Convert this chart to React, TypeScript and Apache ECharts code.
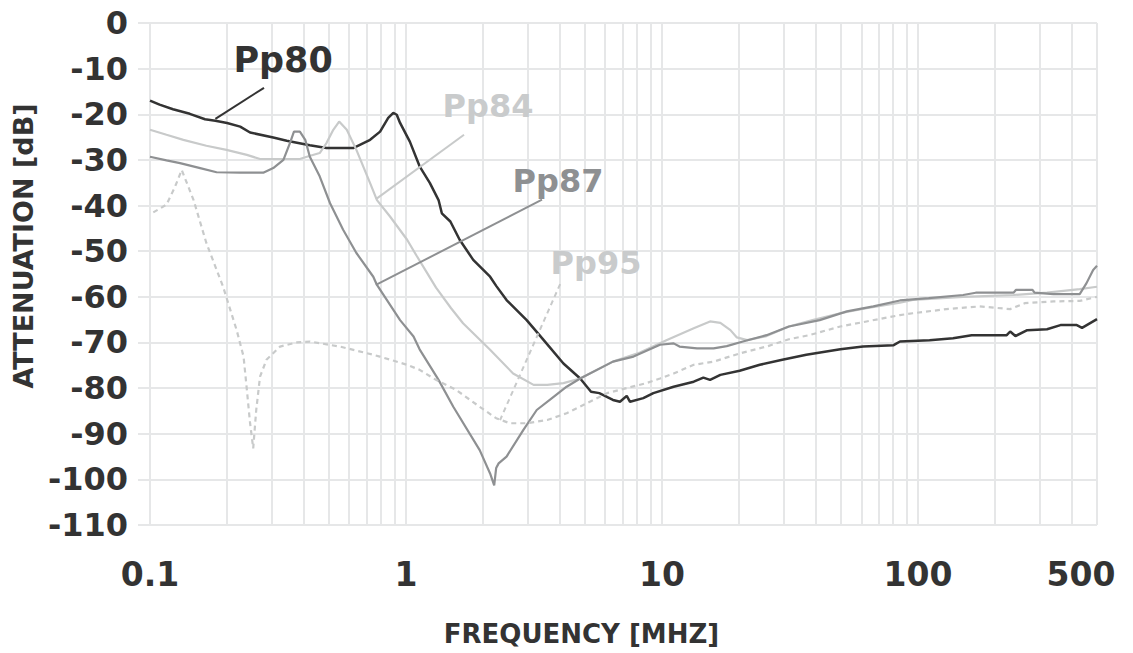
import React, { useEffect, useRef } from 'react';
import * as echarts from 'echarts';

// ---- axes ----
const X_MIN = 0.1;
const X_MAX = 500;
const Y_MIN = -110;
const Y_MAX = 0;
const Y_STEP = 10;
const MINOR_FREQS = [0.2, 0.3, 0.4, 0.5, 0.6, 0.7, 0.8, 0.9, 2, 3, 4, 5, 6, 7, 8, 9, 20, 30, 40, 50, 60, 70, 80, 90, 200, 300, 400];

// ---- series data: [frequency MHz, attenuation dB] ----
const PP80 = [
  [0.1, -17.0], [0.109, -17.9], [0.123, -18.9], [0.143, -19.9], [0.164, -21.1], [0.18, -21.4], [0.2, -21.9],
  [0.225, -22.7], [0.246, -24.0], [0.303, -25.1], [0.342, -25.8], [0.421, -26.8], [0.489, -27.4], [0.622, -27.4],
  [0.724, -25.6], [0.792, -23.8], [0.852, -20.8], [0.892, -19.7], [0.92, -20.1], [0.948, -21.9], [1.035, -26.0],
  [1.13, -31.4], [1.24, -35.1], [1.34, -38.8], [1.38, -41.7], [1.49, -43.5], [1.62, -47.5], [1.83, -51.9],
  [2.13, -55.6], [2.25, -57.6], [2.47, -60.7], [2.96, -65.1], [3.45, -69.5], [4.12, -74.6], [4.79, -77.9],
  [5.28, -80.8], [5.69, -81.1], [6.43, -82.6], [6.85, -83.0], [7.28, -81.7], [7.5, -83.0], [8.45, -82.2],
  [9.25, -81.1], [11.1, -79.7], [13.3, -78.6], [14.5, -77.7], [15.4, -78.2], [16.9, -77.1], [20.1, -76.2],
  [24.1, -74.9], [29.5, -73.8], [36.6, -72.7], [49.7, -71.5], [61, -70.9], [80.3, -70.6], [85, -69.8],
  [110.9, -69.5], [137, -69.1], [162, -68.4], [222, -68.4], [229, -67.6], [240, -68.6], [267, -67.3],
  [319, -67.1], [360, -66.2], [417, -66.2], [437, -66.8], [500, -64.9],
];

const PP84 = [
  [0.1, -23.4], [0.116, -24.5], [0.135, -25.6], [0.166, -26.9], [0.199, -27.8], [0.239, -28.9], [0.269, -29.8],
  [0.313, -29.8], [0.385, -29.8], [0.41, -29.3], [0.46, -28.5], [0.489, -26.3], [0.52, -23.4], [0.548, -21.6],
  [0.587, -23.4], [0.64, -27.8], [0.724, -35.1], [0.77, -38.8], [0.866, -42.4], [1.01, -47.5], [1.1, -51.0],
  [1.21, -54.8], [1.31, -58.0], [1.5, -62.5], [1.67, -65.8], [2.13, -71.6], [2.62, -76.8], [3.15, -79.3],
  [3.56, -79.3], [4.12, -78.9], [4.79, -77.9], [6.43, -74.2], [8.2, -72.2], [10.4, -69.5], [13.3, -66.9],
  [15.4, -65.4], [16.9, -65.7], [18.5, -67.3], [19.6, -68.9], [21.5, -69.5], [25.6, -68.6], [31.3, -66.5],
  [38.7, -65.1], [49.7, -63.6], [62.9, -62.5], [85, -61.3], [95.4, -60.7], [150, -60.0], [236, -59.6],
  [319, -59.1], [428, -58.3], [500, -57.8],
];

const PP87 = [
  [0.1, -29.3], [0.116, -30.1], [0.131, -30.7], [0.157, -31.8], [0.182, -32.7], [0.225, -32.8], [0.277, -32.8],
  [0.303, -31.8], [0.332, -30.0], [0.352, -26.3], [0.365, -23.8], [0.385, -23.8], [0.404, -25.6], [0.421, -29.3],
  [0.46, -33.6], [0.505, -39.5], [0.568, -45.3], [0.64, -50.4], [0.745, -55.6], [0.77, -57.4], [0.948, -65.1],
  [1.07, -68.7], [1.13, -71.5], [1.34, -78.2], [1.53, -84.1], [1.94, -93.6], [2.13, -98.7], [2.21, -101.3],
  [2.25, -97.5], [2.3, -96.5], [2.47, -95.0], [2.87, -89.2], [3.24, -84.8], [3.77, -81.9], [4.24, -79.7],
  [4.79, -77.9], [6.43, -74.2], [7.74, -73.1], [9.82, -70.5], [11.1, -70.2], [11.7, -70.9], [13.7, -71.3],
  [15.9, -71.3], [17.9, -70.8], [20.7, -69.8], [25.6, -68.4], [31.3, -66.5], [41.3, -65.1], [52.7, -63.2],
  [66.9, -62.1], [85, -60.8], [110, -60.3], [150, -59.6], [168, -59.1], [236, -59.1], [241, -58.5],
  [280, -58.5], [285, -59.1], [338, -59.4], [428, -59.4], [455, -57.0], [483, -54.1], [500, -53.2],
];

const PP95 = [
  [0.103, -41.5], [0.116, -39.8], [0.125, -36.0], [0.133, -32.2], [0.148, -38.8], [0.166, -48.2], [0.193, -57.8],
  [0.218, -67.3], [0.232, -73.1], [0.239, -80.4], [0.246, -87.7], [0.253, -93.2], [0.26, -84.8], [0.269, -77.5],
  [0.285, -73.8], [0.322, -70.9], [0.374, -70.0], [0.421, -69.8], [0.552, -70.9], [0.745, -72.7], [0.79, -73.1],
  [1.01, -74.9], [1.13, -76.0], [1.31, -78.2], [1.57, -80.4], [1.94, -84.1], [2.25, -86.6], [2.54, -87.7],
  [2.96, -87.7], [3.56, -87.0], [4.24, -85.5], [5.09, -83.3], [6.1, -81.1], [7.28, -80.0], [8.7, -78.9],
  [9.82, -77.9], [11.1, -76.8], [13.3, -74.9], [15.9, -74.2], [20.1, -72.4], [25.6, -70.9], [31.3, -69.3],
  [37.6, -68.4], [49.7, -66.5], [62.9, -65.4], [85, -64.0], [95.4, -63.6], [129, -62.7], [174, -62.1],
  [229, -62.7], [261, -61.4], [338, -61.0], [428, -60.9], [500, -60.0],
];

// ---- labels and leader lines ----
const SERIES_NAMES = ['Pp80', 'Pp84', 'Pp87', 'Pp95'];
const LABEL_POS = [[0.331, -8.0], [2.09, -18.2], [3.925, -34.6], [5.52, -52.6]];
const LEADER_START = [[0.2788, -14.2], [1.685, -24.5], [3.398, -38.7], [4.0, -57.2]];
const LEADER_END = [[0.18, -21.0], [0.763, -38.6], [0.763, -57.4], [2.33, -87.0]];

const SERIES_DATA = [PP80, PP84, PP87, PP95];
const COLORS = ['#333333', '#c8caca', '#8e9092', '#c8caca'];
const LABEL_COLORS = ['#333333', '#c9cbcc', '#8e9092', '#c9cbcc'];
const LINE_WIDTHS = [2.5, 2.2, 2.2, 2.2];
const LABEL_SIZES = [35, 32, 32, 32];

const FONT = '"DejaVu Sans", sans-serif';
const GRID_COLOR = '#e6e7e8';
const TEXT_COLOR = '#333333';

export default function App() {
  const ref = useRef<HTMLDivElement>(null);

  useEffect(() => {
    if (!ref.current) return;
    const chart = echarts.init(ref.current, undefined, { renderer: 'svg' });

    const curveSeries = SERIES_DATA.map((data, i) => ({
      type: 'line',
      name: SERIES_NAMES[i],
      data,
      showSymbol: false,
      symbol: 'none',
      silent: true,
      z: 3,
      lineStyle: {
        color: COLORS[i],
        width: LINE_WIDTHS[i],
        type: i === 3 ? [5, 4] : 'solid',
      },
    }));

    const leaderSeries = SERIES_NAMES.map((name, i) => ({
      type: 'line',
      name: name + ' leader',
      data: [LEADER_START[i], LEADER_END[i]],
      showSymbol: false,
      symbol: 'none',
      silent: true,
      z: 4,
      lineStyle: {
        color: COLORS[i],
        width: 2,
        type: i === 3 ? [5, 4] : 'solid',
      },
    }));

    const option = {
      animation: false,
      grid: { left: 150, right: 36, top: 23, bottom: 128, containLabel: false, outerBoundsMode: 'none' },
      xAxis: {
        type: 'log',
        logBase: 10,
        min: X_MIN,
        max: X_MAX,
        name: 'FREQUENCY [MHZ]',
        nameLocation: 'middle',
        nameGap: 96,
        nameTextStyle: {
          fontFamily: FONT,
          fontSize: 26,
          fontWeight: 'bold',
          color: TEXT_COLOR,
          padding: [0, 84, 0, 0],
        },
        axisLine: { show: false },
        axisTick: { show: false },
        axisLabel: {
          fontFamily: FONT,
          fontSize: 33,
          fontWeight: 'bold',
          color: TEXT_COLOR,
          margin: 33,
          formatter: (v: number) => {
            const r = Number(Number(v).toPrecision(4));
            if (r >= 499) return '{r|' + r + '}';
            return String(r);
          },
          rich: {
            r: {
              fontFamily: FONT,
              fontSize: 33,
              fontWeight: 'bold',
              color: TEXT_COLOR,
              padding: [0, 32, 0, 0],
            },
          },
        },
        splitLine: { show: true, lineStyle: { color: GRID_COLOR, width: 2 } },
      },
      yAxis: {
        type: 'value',
        min: Y_MIN,
        max: Y_MAX,
        interval: Y_STEP,
        name: 'ATTENUATION [dB]',
        nameLocation: 'middle',
        nameRotate: 90,
        nameGap: 113,
        nameTextStyle: {
          fontFamily: FONT,
          fontSize: 27,
          fontWeight: 'bold',
          color: TEXT_COLOR,
          padding: [0, 0, 0, 56],
        },
        axisLine: { show: false },
        axisTick: { show: true, length: 12, lineStyle: { color: GRID_COLOR, width: 2 } },
        axisLabel: {
          fontFamily: FONT,
          fontSize: 32,
          fontWeight: 'bold',
          color: TEXT_COLOR,
          margin: 22,
        },
        splitLine: { show: true, lineStyle: { color: GRID_COLOR, width: 2 } },
      },
      series: [
        {
          type: 'line',
          name: 'minor grid',
          data: [],
          silent: true,
          z: 1,
          markLine: {
            silent: true,
            z: 1,
            symbol: ['none', 'none'],
            label: { show: false },
            emphasis: { disabled: true },
            lineStyle: { color: GRID_COLOR, width: 2, type: 'solid' },
            data: MINOR_FREQS.map((f) => ({ xAxis: f })),
          },
        },
        ...curveSeries,
        ...leaderSeries,
        {
          type: 'scatter',
          name: 'labels',
          silent: true,
          z: 6,
          symbol: 'circle',
          symbolSize: 1,
          itemStyle: { color: 'rgba(255,255,255,0)', opacity: 1 },
          label: {
            show: true,
            position: 'inside',
            formatter: '{b}',
            fontFamily: FONT,
            fontWeight: 'bold',
            opacity: 1,
            textBorderWidth: 0,
          },
          data: LABEL_POS.map((p, i) => ({
            name: SERIES_NAMES[i],
            value: p,
            label: { color: LABEL_COLORS[i], fontSize: LABEL_SIZES[i] },
          })),
        },
      ],
    };

    chart.setOption(option as any);
    return () => chart.dispose();
  }, []);

  return (
    <div
      ref={ref}
      style={{ position: 'absolute', left: 0, top: 0, width: 1133, height: 653, background: '#ffffff' }}
    />
  );
}
